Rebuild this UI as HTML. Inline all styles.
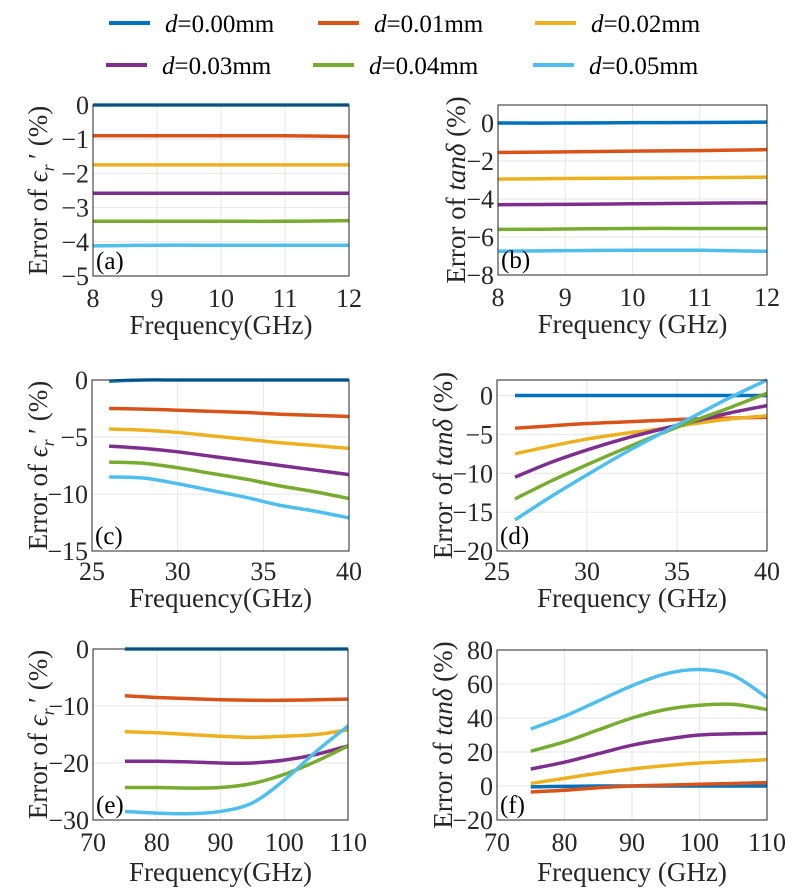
<!DOCTYPE html>
<html><head><meta charset="utf-8"><style>
body{margin:0;background:#fff}
svg{display:block;font-family:"Liberation Serif",serif}
</style></head><body>
<svg id="fig" width="793" height="892" viewBox="0 0 793 892"></svg>
<script>
const colors=["#0072BD","#D95319","#EDB120","#7E2F8E","#77AC30","#4DBEEE"];
const legendLabels=["0.00","0.01","0.02","0.03","0.04","0.05"];
const xA=[8,9,10,11,12];
const aS=[[0,0,0,0,0],[-0.9,-0.9,-0.9,-0.9,-0.92],[-1.75,-1.75,-1.75,-1.75,-1.75],[-2.58,-2.58,-2.58,-2.58,-2.58],[-3.4,-3.4,-3.4,-3.4,-3.38],[-4.12,-4.1,-4.1,-4.1,-4.1]];
const bS=[[0,0,0.02,0.03,0.05],[-1.55,-1.52,-1.48,-1.45,-1.4],[-2.95,-2.92,-2.9,-2.88,-2.85],[-4.3,-4.28,-4.25,-4.22,-4.2],[-5.6,-5.58,-5.55,-5.55,-5.55],[-6.75,-6.72,-6.7,-6.7,-6.75]];
const xC=[26,28,30,32,34,36,38,40];
const cS=[[-0.1,0,0,0,0,0,0,0],[-2.5,-2.55,-2.65,-2.75,-2.85,-3.0,-3.1,-3.2],[-4.3,-4.4,-4.6,-4.9,-5.2,-5.5,-5.75,-6.0],[-5.8,-6.0,-6.3,-6.7,-7.1,-7.5,-7.9,-8.3],[-7.2,-7.3,-7.7,-8.2,-8.7,-9.3,-9.8,-10.4],[-8.5,-8.6,-9.1,-9.7,-10.3,-11.0,-11.5,-12.1]];
const dS=[[0,0,0,0,0,0,0,0],[-4.2,-3.9,-3.6,-3.4,-3.2,-3.0,-2.9,-2.8],[-7.5,-6.5,-5.6,-4.9,-4.3,-3.6,-3.0,-2.6],[-10.5,-8.6,-7.0,-5.6,-4.4,-3.3,-2.2,-1.3],[-13.3,-11.0,-8.9,-6.9,-5.0,-3.2,-1.5,0.3],[-16,-13,-10.2,-7.5,-5.0,-2.6,-0.2,2.0]];
const xE=[75,80,85,90,95,100,105,110];
const eS=[[0,0,0,0,0,0,0,0],[-8.2,-8.5,-8.7,-8.9,-9.0,-9.0,-8.9,-8.8],[-14.5,-14.7,-15.0,-15.3,-15.5,-15.3,-15.0,-14.2],[-19.7,-19.7,-19.8,-20.0,-20.0,-19.5,-18.5,-17.0],[-24.3,-24.3,-24.4,-24.3,-23.6,-22.0,-19.7,-17.0],[-28.5,-28.8,-28.9,-28.5,-27,-23,-18,-13.5]];
const fS=[[-0.5,-0.2,0,0,0,0,0,0],[-3.5,-2.5,-1,0,0.5,1,1.5,2],[1.5,4.5,7.5,10,12,13.5,14.5,15.5],[10,14,19,24,27.5,30,30.7,31],[20.5,26,33,40,45,47.5,48,45],[33.5,41,50,59,66,68.5,65,52]];
const xTicksA=[8,9,10,11,12],yTicksA=[0,-1,-2,-3,-4,-5],yTicksB=[0,-2,-4,-6,-8];
const xTicksC=[25,30,35,40],yTicksC=[0,-5,-10,-15],yTicksD=[0,-5,-10,-15,-20];
const xTicksE=[70,80,90,100,110],yTicksE=[0,-10,-20,-30],yTicksF=[80,60,40,20,0,-20];

const NS="http://www.w3.org/2000/svg",svg=document.getElementById('fig');
function el(t,a,p){const e=document.createElementNS(NS,t);for(const k in a)e.setAttribute(k,a[k]);(p||svg).appendChild(e);return e;}
function smooth(pts){let d="M"+pts[0][0]+","+pts[0][1];for(let i=0;i<pts.length-1;i++){const p0=pts[i-1]||pts[i],p1=pts[i],p2=pts[i+1],p3=pts[i+2]||p2;
d+=" C"+(p1[0]+(p2[0]-p0[0])/6)+","+(p1[1]+(p2[1]-p0[1])/6)+" "+(p2[0]-(p3[0]-p1[0])/6)+","+(p2[1]-(p3[1]-p1[1])/6)+" "+p2[0]+","+p2[1];}return d;}
function panel(o){
 const g=el('g',{});
 const X=v=>o.x0+(v-o.xd[0])/(o.xd[1]-o.xd[0])*(o.x1-o.x0);
 const Y=v=>o.y0+(o.yd[1]-v)/(o.yd[1]-o.yd[0])*(o.y1-o.y0);
 const tOff=o.tOff,tiOff=o.tiOff;
 o.xt.forEach(t=>{const l=el('line',{x1:X(t),x2:X(t),y1:o.y0,y2:o.y1,stroke:'#e6e6e6','stroke-width':1},g);
  const tx=el('text',{x:X(t),y:o.y1+tOff,'font-size':26,'text-anchor':'middle',fill:'#262626'},g);tx.textContent=t;});
 o.yt.forEach(t=>{const l=el('line',{x1:o.x0,x2:o.x1,y1:Y(t),y2:Y(t),stroke:'#e6e6e6','stroke-width':1},g);
  const tx=el('text',{x:o.x0-4,y:Y(t)+9,'font-size':26,'text-anchor':'end',fill:'#262626'},g);tx.textContent=(t<0?'\u2212'+(-t):t);});
 o.s.forEach((s,i)=>{const p=el('path',{d:smooth(s.map((v,j)=>[X(o.xs[j]),Y(v)])),fill:'none',stroke:colors[i],'stroke-width':3.5},g);});
 const b=el('rect',{x:o.x0,y:o.y0,width:o.x1-o.x0,height:o.y1-o.y0,fill:'none',stroke:'#262626','stroke-width':1},g);
 const lb=el('text',{x:o.x0+3,y:o.y1-7,'font-size':25,fill:'#000'},g);lb.textContent='('+o.id+')';
 const xl=el('text',{x:(o.x0+o.x1)/2,y:o.y1+tiOff,'font-size':27,'text-anchor':'middle',fill:'#262626'},g);xl.textContent=o.xlab;
 const yl=el('text',{x:0,y:0,'font-size':27,'text-anchor':'middle',fill:'#262626',transform:'translate('+o.ylx+','+((o.y0+o.y1)/2)+') rotate(-90)'},g);
 if(o.eps){yl.innerHTML='Error of <tspan font-style="italic">\u03f5</tspan><tspan font-size="18" font-style="italic" dy="7">r</tspan><tspan dy="-7">\u2009\u2032 (%)</tspan>';}
 else{yl.innerHTML='Error of <tspan font-style="italic">tan\u03b4</tspan> (%)';}
}
panel({id:'a',x0:93,x1:349,y0:105,y1:276,xd:[8,12],yd:[-5,0],xt:xTicksA,yt:yTicksA,xs:xA,s:aS,xlab:'Frequency(GHz)',eps:1,ylx:47,tOff:31,tiOff:58});
panel({id:'b',x0:498,x1:767,y0:105,y1:275,xd:[8,12],yd:[-8,0.95],xt:xTicksA,yt:yTicksB,xs:xA,s:bS,xlab:'Frequency (GHz)',eps:0,ylx:465,tOff:31,tiOff:58});
panel({id:'c',x0:92,x1:349,y0:380,y1:551,xd:[25,40],yd:[-15,0],xt:xTicksC,yt:yTicksC,xs:xC,s:cS,xlab:'Frequency(GHz)',eps:1,ylx:47,tOff:29,tiOff:56});
panel({id:'d',x0:497,x1:767,y0:380,y1:551,xd:[25,40],yd:[-20,2],xt:xTicksC,yt:yTicksD,xs:xC,s:dS,xlab:'Frequency (GHz)',eps:0,ylx:452,tOff:29,tiOff:56});
panel({id:'e',x0:93,x1:348,y0:649,y1:820,xd:[70,110],yd:[-30,0],xt:xTicksE,yt:yTicksE,xs:xE,s:eS,xlab:'Frequency(GHz)',eps:1,ylx:47,tOff:31,tiOff:61});
panel({id:'f',x0:497,x1:767,y0:650,y1:820,xd:[70,110],yd:[-20,80],xt:xTicksE,yt:yTicksF,xs:xE,s:fS,xlab:'Frequency (GHz)',eps:0,ylx:452,tOff:31,tiOff:61});
const legPos=[[109,23],[318,23],[535,23],[106,65],[313,65],[533,65]];
legendLabels.forEach((l,i)=>{const g=el('g',{});
 el('line',{x1:legPos[i][0],x2:legPos[i][0]+41,y1:legPos[i][1],y2:legPos[i][1],stroke:colors[i],'stroke-width':4},g);
 const t=el('text',{x:legPos[i][0]+56,y:legPos[i][1]+9,'font-size':25,fill:'#000'},g);t.innerHTML='<tspan font-style="italic">d</tspan>='+l+'mm';});
</script>
</body></html>
